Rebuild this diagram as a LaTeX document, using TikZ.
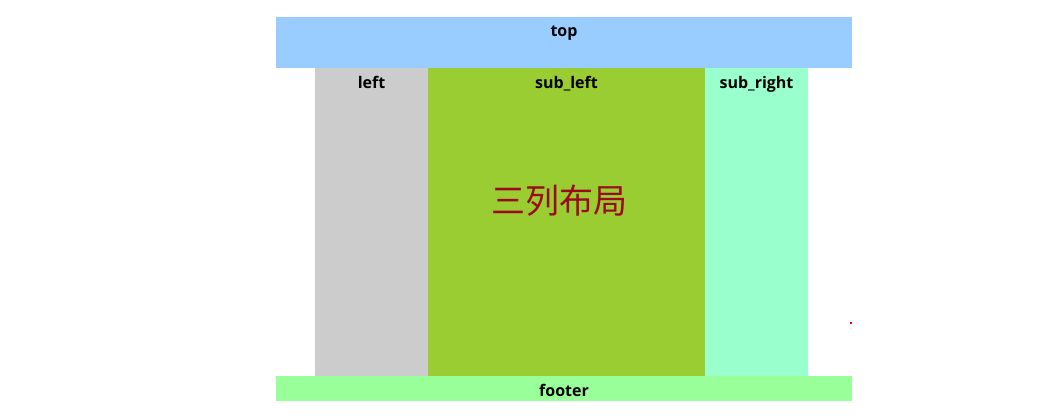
\documentclass[tikz,border=0pt]{standalone}
\usepackage{fontspec}
\setmainfont{Open Sans}
\newfontfamily\cjk{Noto Sans CJK SC}
\usepackage{xcolor}
\definecolor{topblue}{HTML}{99CCFF}
\definecolor{leftgray}{HTML}{CCCCCC}
\definecolor{subleft}{HTML}{9ACD32}
\definecolor{subright}{HTML}{99FFCC}
\definecolor{footgreen}{HTML}{99FF99}
\definecolor{titlered}{HTML}{9B0A1E}
\usetikzlibrary{positioning}

\begin{document}
\begin{tikzpicture}[x=1pt, y=-1pt,
    block/.style={inner sep=0pt, outer sep=0pt, anchor=north west},
    caption/.style={font=\fontsize{16}{18}\selectfont\bfseries, text=black, inner sep=0pt}]

  \useasboundingbox (0,0) rectangle (1057,417);

  % header and footer bars
  \node[block, fill=topblue, minimum width=576, minimum height=51] (top) at (276,17) {};
  \node[block, fill=footgreen, minimum width=576, minimum height=25] (footer) at (276,376) {};

  % the three columns
  \node[block, fill=leftgray, minimum width=113, minimum height=308] (left) at (315,68) {};
  \node[block, fill=subleft, minimum width=277, minimum height=308] (subl) at (428,68) {};
  \node[block, fill=subright, minimum width=103, minimum height=308] (subr) at (705,68) {};

  % captions
  \node[caption, below=8.5pt of top.north] (toptext) {top};
  \node[caption, below=8.5pt of left.north] (lefttext) {left};
  \node[caption, below=8.5pt of subl.north] (subltext) {sub\_left};
  \node[caption, below=8.5pt of subr.north] (subrtext) {sub\_right};
  \node[caption, below=1.5pt of footer.center, anchor=center] (foottext) {footer};

  \node[font=\cjk\fontsize{34}{36}\selectfont, text=titlered, inner sep=0pt] (title)
    at (559,201) {三列布局};

  % stray mark at the right
  \fill[red] (849.5,321.5) rectangle (851.5,324) coordinate (mark);

\end{tikzpicture}
\end{document}
